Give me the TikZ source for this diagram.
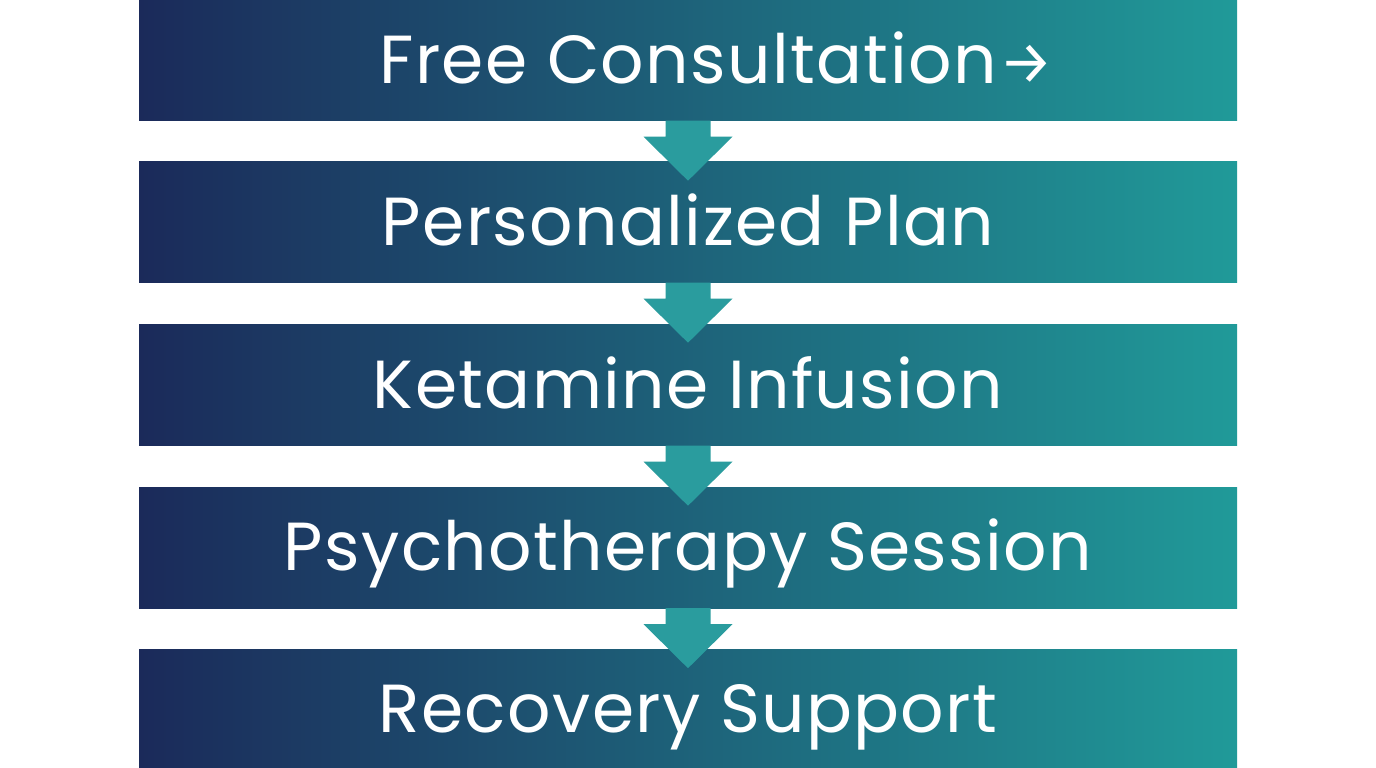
\documentclass[tikz,border=0pt]{standalone}
\usepackage{fontspec}
\usetikzlibrary{calc}
\setmainfont{Poppins}[LetterSpace=2]
\newfontfamily\arrowfont{Fira Sans}
\definecolor{navy}{RGB}{27,42,90}
\definecolor{tealR}{RGB}{32,154,153}
\definecolor{arrowC}{RGB}{42,156,158}
\begin{document}
\begin{tikzpicture}[x=1pt,y=-1pt,
  bar/.style={minimum width=1098pt, minimum height=121pt, inner sep=0pt,
    left color=navy, right color=tealR, text=white,
    font=\fontsize{68}{72}\selectfont, text height=46pt, text depth=0pt},
  flowarrow/.style={fill=arrowC, draw=none}]
\useasboundingbox (0,0) rectangle (1376,768);
\fill[white] (0,0) rectangle (1376,768);
\node[bar] (b1) at (688,60) {Free Consultation\rlap{\hspace{3pt}{\arrowfont\fontsize{60}{64}\selectfont →}}};
\node[bar] (b2) at (688,222) {Personalized Plan};
\node[bar] (b3) at (688,385) {Ketamine Infusion};
\node[bar] (b4) at (688,547.5) {Psychotherapy Session};
\node[bar] (b5) at (688,709.5) {Recovery Support};
\foreach \a in {b1,b2,b3,b4}{
  \fill[flowarrow] ($(\a.south)+(-22.5,0)$) -- ($(\a.south)+(22.5,0)$) -- ($(\a.south)+(22.5,16)$)
    -- ($(\a.south)+(44.5,16)$) -- ($(\a.south)+(0,60)$) -- ($(\a.south)+(-44.5,16)$)
    -- ($(\a.south)+(-22.5,16)$) -- cycle;
}
\end{tikzpicture}
\end{document}
